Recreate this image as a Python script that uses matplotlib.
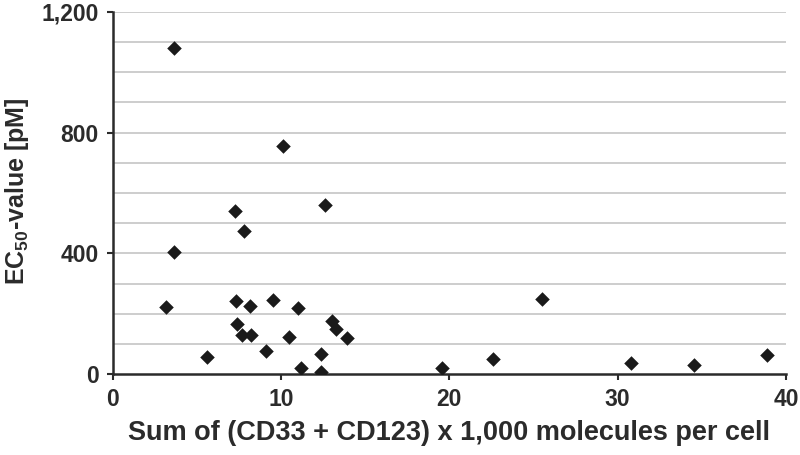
import numpy as np
import matplotlib
matplotlib.use('Agg')
import matplotlib.pyplot as plt

plt.rcParams['font.family'] = ['Liberation Sans', 'DejaVu Sans']
plt.rcParams['font.weight'] = 'bold'
plt.rcParams['mathtext.fontset'] = 'custom'
plt.rcParams['mathtext.rm'] = 'Liberation Sans:bold'
plt.rcParams['mathtext.bf'] = 'Liberation Sans:bold'
plt.rcParams['mathtext.default'] = 'bf'

# sum of CD33 + CD123 (x1000 molecules/cell) vs EC50 (pM)
molecules = [3.64, 10.12, 12.6, 7.28, 7.78, 3.66, 3.19, 5.59, 7.33, 8.18,
             9.51, 11.01, 7.37, 7.66, 8.20, 9.11, 10.48, 11.19, 12.36, 12.38,
             13.05, 13.29, 13.94, 19.58, 22.60, 25.51, 30.81, 34.52, 38.86]
ec50 = [1080, 756, 560, 540, 474, 404, 224, 56, 242, 227,
        245, 218, 165, 130, 130, 78, 124, 21, 68, 8,
        177, 151, 121, 21, 50, 248, 36, 31, 65]

xticks = [0, 10, 20, 30, 40]
yticks = [0, 400, 800, 1200]
grid_y = np.arange(100, 1201, 100)

txt = '#2b2b2b'
fig = plt.figure(figsize=(8, 4.55), dpi=100)
ax = fig.add_axes([0.1409, 0.1774, 0.8416, 0.7969])

for g in grid_y:
    ax.axhline(g, color='#c0c0c0', lw=1.1, zorder=1)

ax.scatter(molecules, ec50, marker='D', s=55, color='#1a1a1a', zorder=3, linewidths=0)

ax.set_xlim(0, 40)
ax.set_ylim(0, 1200)
ax.set_xticks(xticks)
ax.set_yticks(yticks)
ax.set_yticklabels(['{:,}'.format(v) for v in yticks])

for s in ['top', 'right']:
    ax.spines[s].set_visible(False)
for s in ['left', 'bottom']:
    ax.spines[s].set_color(txt)
    ax.spines[s].set_linewidth(1.8)

ax.tick_params(axis='both', direction='out', length=4.5, width=1.5, color=txt,
               labelsize=16.5, labelcolor=txt, pad=5.5)
for lab in ax.get_xticklabels() + ax.get_yticklabels():
    lab.set_fontweight('bold')

ax.set_xlabel('Sum of (CD33 + CD123) x 1,000 molecules per cell',
              fontsize=19.5, fontweight='bold', color=txt, labelpad=6)
ax.set_ylabel('EC$_{50}$-value [pM]', fontsize=18, fontweight='bold', color=txt)
ax.yaxis.set_label_coords(-0.122, 0.505)

fig.savefig('out.png', dpi=100)
